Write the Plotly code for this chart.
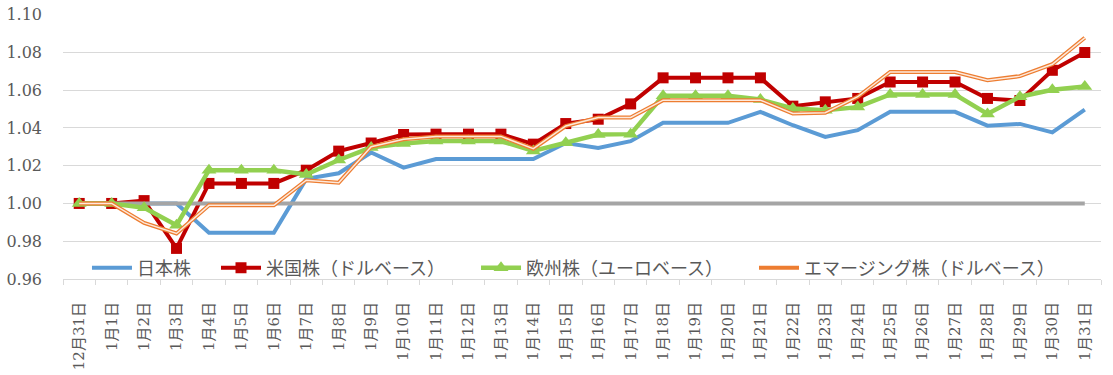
import plotly.graph_objects as go

categories = ["12月31日", "1月1日", "1月2日", "1月3日", "1月4日", "1月5日", "1月6日", "1月7日",
              "1月8日", "1月9日", "1月10日", "1月11日", "1月12日", "1月13日", "1月14日", "1月15日",
              "1月16日", "1月17日", "1月18日", "1月19日", "1月20日", "1月21日", "1月22日", "1月23日",
              "1月24日", "1月25日", "1月26日", "1月27日", "1月28日", "1月29日", "1月30日", "1月31日"]

japan = [1.000, 1.000, 1.000, 1.000, 0.9845, 0.9845, 0.9845, 1.013, 1.016, 1.027, 1.019, 1.0235,
         1.0235, 1.0235, 1.0235, 1.032, 1.0294, 1.033, 1.0427, 1.0427, 1.0427, 1.0485, 1.0414, 1.0352,
         1.0388, 1.0485, 1.0485, 1.0485, 1.0412, 1.0421, 1.0376, 1.0497]

us = [1.000, 1.000, 1.0015, 0.9762, 1.0106, 1.0106, 1.0106, 1.0176, 1.0277, 1.032, 1.0365, 1.0367,
      1.0367, 1.0367, 1.0314, 1.0423, 1.0446, 1.0527, 1.0665, 1.0665, 1.0665, 1.0665, 1.0515, 1.0538,
      1.0556, 1.0643, 1.0643, 1.0643, 1.0556, 1.0545, 1.0705, 1.0799]

europe = [1.000, 1.000, 0.9977, 0.9885, 1.0176, 1.0176, 1.0176, 1.0153, 1.023, 1.0296, 1.0317, 1.0330,
          1.0330, 1.0330, 1.0278, 1.0322, 1.0365, 1.0367, 1.0570, 1.0570, 1.0570, 1.0550, 1.0503, 1.0494,
          1.0510, 1.0577, 1.0577, 1.0577, 1.0474, 1.0565, 1.0602, 1.0619]

emerging = [1.000, 1.000, 0.9897, 0.9841, 0.999, 0.999, 0.999, 1.0123, 1.011, 1.030, 1.034, 1.0355,
            1.0355, 1.0355, 1.029, 1.041, 1.0455, 1.0455, 1.0547, 1.0547, 1.0547, 1.0547, 1.0476, 1.048,
            1.0565, 1.0696, 1.0696, 1.0696, 1.0652, 1.0674, 1.0737, 1.0877]

baseline = [1.0, 1.0, 1.0, 1.0, 1.0, 1.0, 1.0, 1.0, 1.0, 1.0, 1.0, 1.0, 1.0, 1.0, 1.0, 1.0,
            1.0, 1.0, 1.0, 1.0, 1.0, 1.0, 1.0, 1.0, 1.0, 1.0, 1.0, 1.0, 1.0, 1.0, 1.0, 1.0]

y_ticks = [0.96, 0.98, 1.00, 1.02, 1.04, 1.06, 1.08, 1.10]

series_names = ["日本株", "米国株（ドルベース）", "欧州株（ユーロベース）", "エマージング株（ドルベース）"]

fig = go.Figure()

fig.add_trace(go.Scatter(x=categories, y=japan, name=series_names[0], mode="lines",
                         legend="legend",
                         line=dict(color="#5b9bd5", width=4)))
fig.add_trace(go.Scatter(x=categories, y=us, name=series_names[1], mode="lines+markers",
                         legend="legend2",
                         line=dict(color="#c00000", width=4),
                         marker=dict(symbol="square", size=11, color="#c00000")))
fig.add_trace(go.Scatter(x=categories, y=baseline, name="base", mode="lines", showlegend=False,
                         line=dict(color="#a5a5a5", width=4)))
fig.add_trace(go.Scatter(x=categories, y=europe, name=series_names[2], mode="lines+markers",
                         legend="legend3",
                         line=dict(color="#92d050", width=4.5),
                         marker=dict(symbol="triangle-up", size=13, color="#92d050")))
fig.add_trace(go.Scatter(x=categories, y=emerging, name=series_names[3], mode="lines",
                         legend="legend4",
                         line=dict(color="#ed7d31", width=4), legendgroup="em"))
fig.add_trace(go.Scatter(x=categories, y=emerging, name=series_names[3], mode="lines",
                         showlegend=False, legendgroup="em", legend="legend4",
                         line=dict(color="#fde9dc", width=1.5)))

legend_font = dict(family="Noto Sans CJK JP", size=18, color="#595959")


def leg(xpos):
    return dict(orientation="h", x=xpos, y=0.0415, xanchor="left", yanchor="middle",
                bgcolor="rgba(0,0,0,0)", font=legend_font, itemwidth=40)


fig.update_layout(
    width=1113, height=375,
    margin=dict(l=63, r=12, t=14, b=96),
    paper_bgcolor="white", plot_bgcolor="white",
    showlegend=True,
    legend=leg(0.0231),
    legend2=leg(0.1474),
    legend3=leg(0.3979),
    legend4=leg(0.6657),
    font=dict(family="DejaVu Serif, Noto Sans CJK JP", color="#595959"),
)

fig.update_yaxes(range=[0.96, 1.1003], tickvals=y_ticks, tickformat=".2f", automargin=False,
                 showgrid=True, gridcolor="#d9d9d9", gridwidth=1, ticklabeloverflow="allow",
                 zeroline=False, showline=False, ticks="", ticklabelstandoff=20,
                 tickfont=dict(family="DejaVu Serif", size=16, color="#595959"))

fig.update_xaxes(type="category", range=[-0.5, 31.5], tickangle=-90, automargin=False,
                 showgrid=False, showline=True, linecolor="#d9d9d9", linewidth=1,
                 ticks="outside", tickson="boundaries", ticklen=5, tickcolor="#d9d9d9",
                 ticklabelstandoff=16,
                 tickfont=dict(family="DejaVu Serif, Noto Sans CJK JP", size=15, color="#595959"))

fig.write_html("out.html", config={"displayModeBar": False},
               post_script="document.body.style.margin='0';document.body.style.overflow='hidden';")
